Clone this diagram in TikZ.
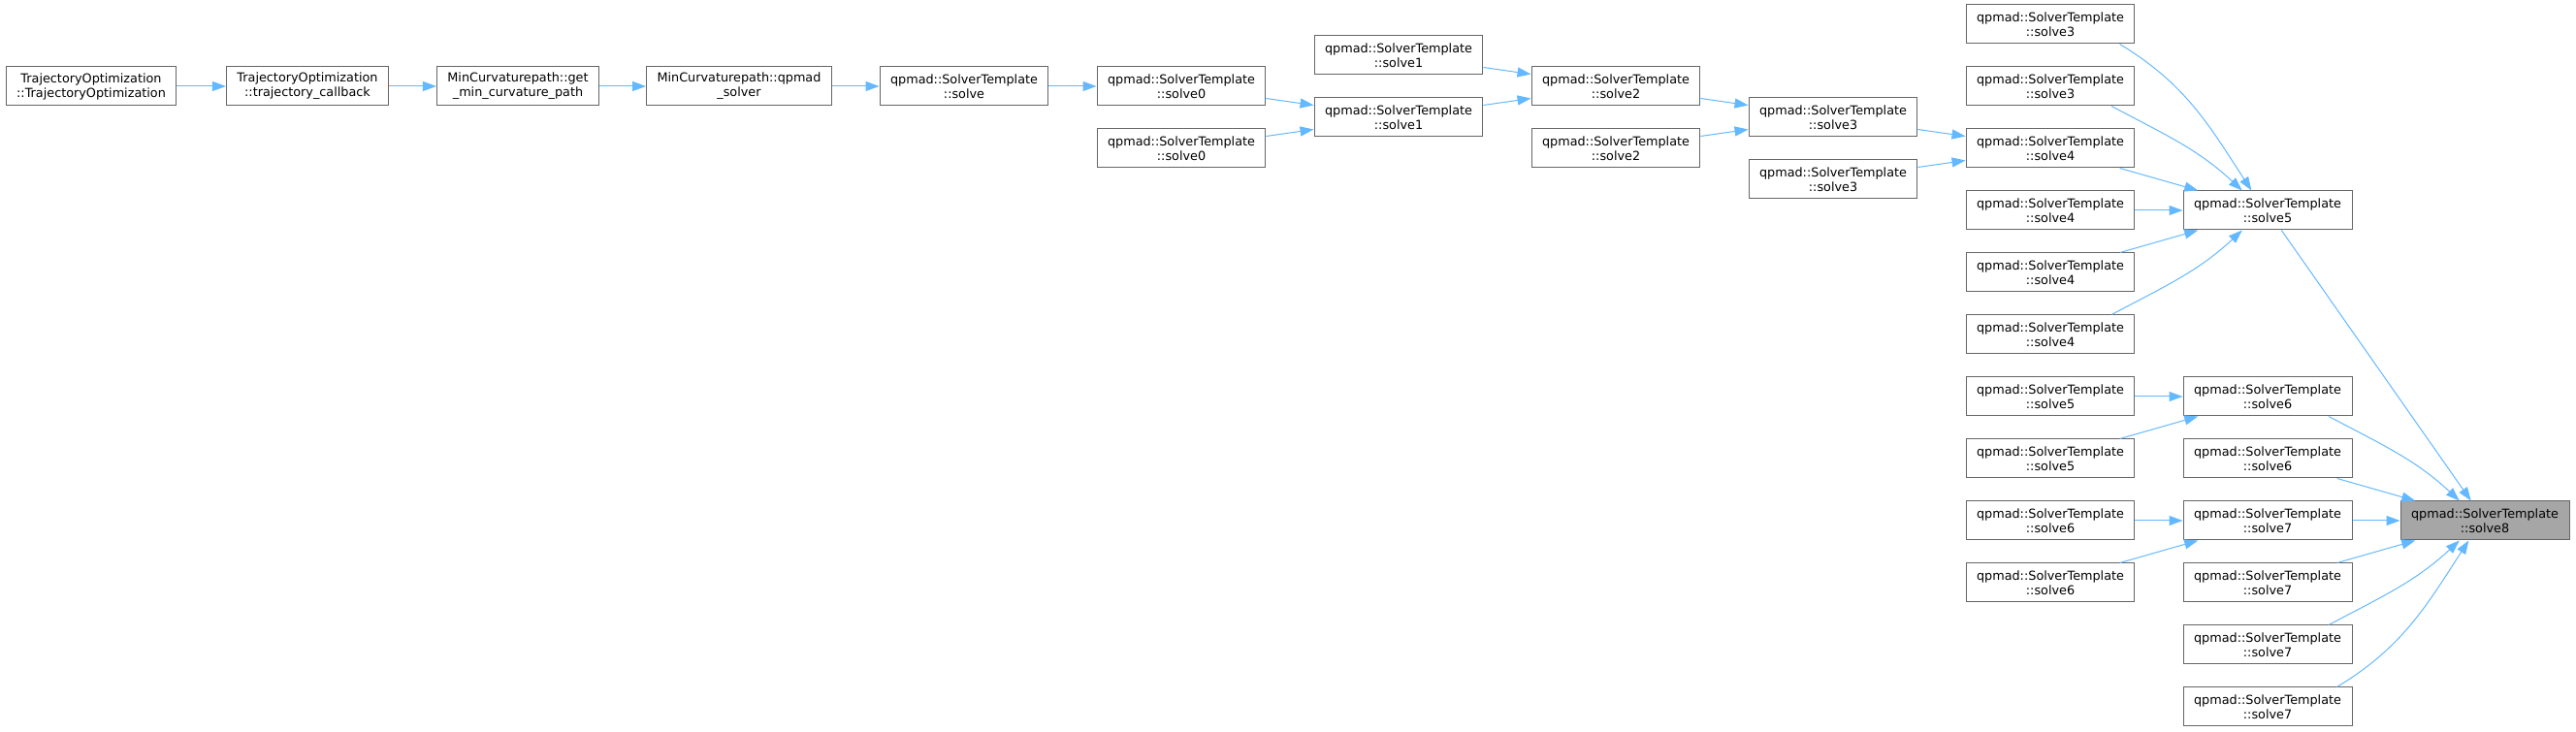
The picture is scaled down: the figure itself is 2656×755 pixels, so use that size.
\documentclass[tikz,border=0pt]{standalone}
\usepackage{fontspec}
\setmainfont{DejaVu Sans}
\usetikzlibrary{arrows.meta}
\definecolor{EdgeBlue}{RGB}{99,184,255}
\definecolor{FrameGray}{RGB}{102,102,102}
\definecolor{MarkGray}{RGB}{166,166,166}
\tikzset{
	fn/.style={rectangle,draw=FrameGray,fill=white,line width=1pt,inner xsep=11pt,inner ysep=2pt,
		minimum height=40pt,align=center,font=\fontsize{12.8pt}{15pt}\selectfont},
	fnmark/.style={fn,fill=MarkGray},
	calls/.style={draw=EdgeBlue,line width=1pt,-{Triangle[length=14pt,width=10pt]}},
}

\begin{document}
\begin{tikzpicture}[x=1pt,y=1pt]
	\useasboundingbox (0,0) rectangle (2656,755);
	\node[fn] (t1) at (94,666) {TrajectoryOptimization\\::TrajectoryOptimization};
	\node[fn] (t2) at (317,666) {TrajectoryOptimization\\::trajectory\_callback};
	\node[fn] (t3) at (534,666) {MinCurvaturepath::get\\\_min\_curvature\_path};
	\node[fn] (t4) at (762,666) {MinCurvaturepath::qpmad\\\_solver};
	\node[fn] (t5) at (994,666) {qpmad::SolverTemplate\\::solve};
	\foreach \n/\k/\x/\y in {s0a/0/1218/666,s0b/0/1218/602,s1a/1/1442/698,s1b/1/1442/634,
		s2a/2/1666/666,s2b/2/1666/602,s3a/3/1890/634,s3b/3/1890/570}
	\node[fn] (\n) at (\x,\y) {qpmad::SolverTemplate\\::solve\k};
	% left column
	\foreach \n/\k/\y in {l1/3/730,l2/3/666,l3/4/602,l4/4/538,l5/4/474,l6/4/410,
		l7/5/346,l8/5/282,l9/6/218,l10/6/154}
	\node[fn] (\n) at (2114,\y) {qpmad::SolverTemplate\\::solve\k};
	% middle column
	\foreach \n/\k/\y in {m1/5/538,m2/6/346,m3/6/282,m4/7/218,m5/7/154,m6/7/90,m7/7/26}
	\node[fn] (\n) at (2338,\y) {qpmad::SolverTemplate\\::solve\k};
	\node[fnmark] (s8) at (2562,218) {qpmad::SolverTemplate\\::solve8};
	\foreach \x/\y in {t1/t2,t2/t3,t3/t4,t4/t5,t5/s0a,s0a/s1b,s0b/s1b,s1a/s2a,s1b/s2a,
		s2a/s3a,s2b/s3a,s3a/l3,s3b/l3,l3/m1,l4/m1,l5/m1,l7/m2,l8/m2,l9/m4,l10/m4,
		m1/s8,m3/s8,m4/s8,m5/s8}
	\draw[calls] (\x)--(\y);
	% bent ones
	\draw[calls] (l1.-16) to[out=-31,in=123] (m1.129);
	\draw[calls] (l2.-18) to[out=-28,in=137] (m1.142);
	\draw[calls] (l6.18) to[out=28,in=-137] (m1.-142);
	\draw[calls] (m2.-18) to[out=-28,in=137] (s8.142);
	\draw[calls] (m6.18) to[out=28,in=-137] (s8.-142);
	\draw[calls] (m7.16) to[out=31,in=-123] (s8.-129);
\end{tikzpicture}
\end{document}
